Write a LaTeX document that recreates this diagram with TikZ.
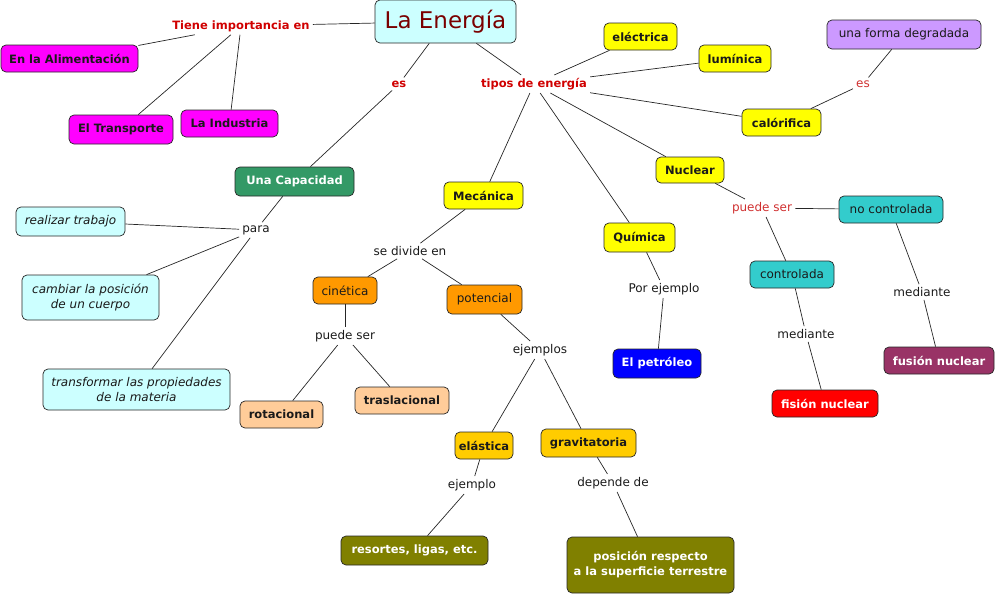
\documentclass[tikz,border=0pt]{standalone}
\usepackage{fontspec}
\setmainfont{DejaVu Sans}
\definecolor{cyanbox}{HTML}{CCFFFF}
\definecolor{titlered}{HTML}{7A0000}
\definecolor{linkred}{HTML}{D00000}
\definecolor{linkredb}{HTML}{D03030}
\definecolor{magentabox}{HTML}{FF00FF}
\definecolor{greenbox}{HTML}{339966}
\definecolor{yellowbox}{HTML}{FFFF00}
\definecolor{lilac}{HTML}{CC99FF}
\definecolor{tealbox}{HTML}{33CCCC}
\definecolor{redbox}{HTML}{FF0000}
\definecolor{plum}{HTML}{993366}
\definecolor{bluebox}{HTML}{0000FF}
\definecolor{orangebox}{HTML}{FF9900}
\definecolor{peach}{HTML}{FFCC99}
\definecolor{goldbox}{HTML}{FFCC00}
\definecolor{olivebox}{HTML}{808000}
\definecolor{darktext}{HTML}{1A1A1A}
\tikzset{
  box/.style={draw=black!85, rounded corners=5pt, line width=0.7pt, inner sep=2pt, align=center,
    font=\bfseries\fontsize{11.5}{15}\selectfont, text=darktext},
  nbox/.style={box, font=\fontsize{12}{15}\selectfont},
  ibox/.style={box, font=\itshape\fontsize{12}{15}\selectfont},
  lbl/.style={inner sep=3pt, font=\fontsize{12}{14}\selectfont, text=darktext},
  rlbl/.style={inner sep=3pt, font=\bfseries\fontsize{11.5}{14}\selectfont, text=linkred},
  rlbln/.style={inner sep=3pt, font=\fontsize{12}{14}\selectfont, text=linkredb},
  conn/.style={draw=black!85, line width=0.7pt}
}
\begin{document}
\begin{tikzpicture}[x=1pt,y=-1pt]
\useasboundingbox (0,0) rectangle (997,595);
% main
\node[nbox, fill=cyanbox, minimum width=141, minimum height=43, font=\fontsize{23}{26}\selectfont, text=titlered] (E) at (445.5,21.5) {La Energía};
% importance
\node[rlbl] (tiene) at (241,26) {Tiene importancia en};
\node[box, fill=magentabox, minimum width=137, minimum height=27] (alim) at (69.5,58.5) {En la Alimentación};
\node[box, fill=magentabox, minimum width=104, minimum height=29] (trans) at (121,129.5) {El Transporte};
\node[box, fill=magentabox, minimum width=97, minimum height=27] (indus) at (229.5,123.5) {La Industria};
% es capacidad
\node[rlbl] (es1) at (399,84) {es};
\node[box, fill=greenbox, text=white, minimum width=119, minimum height=29] (cap) at (294.5,181.5) {Una Capacidad};
\node[lbl] (para) at (256,230) {para};
\node[ibox, fill=cyanbox, minimum width=109, minimum height=29] (real) at (70.5,221.5) {realizar trabajo};
\node[ibox, fill=cyanbox, minimum width=137, minimum height=45] (camb) at (90.5,297.5) {cambiar la posición\\de un cuerpo};
\node[ibox, fill=cyanbox, minimum width=187, minimum height=41] (transf) at (136.5,389.5) {transformar las propiedades\\de la materia};
% tipos
\node[rlbl] (tipos) at (534,84) {tipos de energía};
\node[box, fill=yellowbox, minimum width=73, minimum height=27] (elec) at (640.5,36.5) {eléctrica};
\node[box, fill=yellowbox, minimum width=72, minimum height=27] (lum) at (735,58.5) {lumínica};
\node[box, fill=yellowbox, minimum width=79, minimum height=27] (cal) at (781.5,122.5) {calórifica};
\node[rlbln] (es2) at (863,84) {es};
\node[nbox, fill=lilac, minimum width=154, minimum height=29] (degr) at (904,34.5) {una forma degradada};
\node[box, fill=yellowbox, minimum width=68, minimum height=26] (nuc) at (690,170) {Nuclear};
\node[box, fill=yellowbox, minimum width=79, minimum height=27] (mec) at (483.5,195.5) {Mecánica};
\node[box, fill=yellowbox, minimum width=71, minimum height=29] (quim) at (639.5,237.5) {Química};
% nuclear
\node[rlbln] (pser1) at (762,208) {puede ser};
\node[nbox, fill=tealbox, minimum width=104, minimum height=27] (noc) at (891,209.5) {no controlada};
\node[nbox, fill=tealbox, minimum width=84, minimum height=27] (con) at (792,274.5) {controlada};
\node[lbl] (med1) at (806,334) {mediante};
\node[box, fill=redbox, text=white, minimum width=106, minimum height=27] (fis) at (825,403.5) {fisión nuclear};
\node[lbl] (med2) at (922,292) {mediante};
\node[box, fill=plum, text=white, minimum width=110, minimum height=27] (fus) at (939,360.5) {fusión nuclear};
% quimica
\node[lbl] (porej) at (664,289) {Por ejemplo};
\node[box, fill=bluebox, text=white, minimum width=88, minimum height=29] (petr) at (657,363.5) {El petróleo};
% mecanica
\node[lbl] (divide) at (410,251) {se divide en};
\node[nbox, fill=orangebox, minimum width=64, minimum height=27] (cin) at (345,290.5) {cinética};
\node[nbox, fill=orangebox, minimum width=75, minimum height=29] (pot) at (484.5,299.5) {potencial};
\node[lbl] (pser2) at (345,336) {puede ser};
\node[box, fill=peach, minimum width=83, minimum height=27] (rot) at (281.5,414.5) {rotacional};
\node[box, fill=peach, minimum width=94, minimum height=27] (tras) at (402,400.5) {traslacional};
\node[lbl] (ejs) at (540,350) {ejemplos};
\node[box, fill=goldbox, minimum width=58, minimum height=27] (elas) at (484,445.5) {elástica};
\node[box, fill=goldbox, minimum width=95, minimum height=28] (grav) at (588.5,443) {gravitatoria};
\node[lbl] (ej) at (472,485) {ejemplo};
\node[box, fill=olivebox, text=white, minimum width=147, minimum height=29] (res) at (414.5,550.5) {resortes, ligas, etc.};
\node[lbl] (dep) at (613,483) {depende de};
\node[box, fill=olivebox, text=white, minimum width=167, minimum height=56, font=\bfseries\fontsize{11.5}{15}\selectfont] (pos) at (650.5,565) {posición respecto\\a la superficie terrestre};
% connectors
\draw[conn] (E) -- (tiene);
\draw[conn] (tiene) -- (alim);
\draw[conn] (tiene) -- (trans);
\draw[conn] (tiene) -- (indus);
\draw[conn] (E) -- (es1);
\draw[conn] (es1) -- (cap);
\draw[conn] (cap) -- (para);
\draw[conn] (para) -- (real);
\draw[conn] (para) -- (camb);
\draw[conn] (para) -- (transf);
\draw[conn] (E) -- (tipos);
\draw[conn] (tipos) -- (elec);
\draw[conn] (tipos) -- (lum);
\draw[conn] (tipos) -- (cal);
\draw[conn] (cal) -- (es2);
\draw[conn] (es2) -- (degr);
\draw[conn] (tipos) -- (nuc);
\draw[conn] (tipos) -- (quim);
\draw[conn] (tipos) -- (mec);
\draw[conn] (nuc) -- (pser1);
\draw[conn] (pser1) -- (noc);
\draw[conn] (pser1) -- (con);
\draw[conn] (con) -- (med1);
\draw[conn] (med1) -- (fis);
\draw[conn] (noc) -- (med2);
\draw[conn] (med2) -- (fus);
\draw[conn] (quim) -- (porej);
\draw[conn] (porej) -- (petr);
\draw[conn] (mec) -- (divide);
\draw[conn] (divide) -- (cin);
\draw[conn] (divide) -- (pot);
\draw[conn] (cin) -- (pser2);
\draw[conn] (pser2) -- (rot);
\draw[conn] (pser2) -- (tras);
\draw[conn] (pot) -- (ejs);
\draw[conn] (ejs) -- (elas);
\draw[conn] (ejs) -- (grav);
\draw[conn] (elas) -- (ej);
\draw[conn] (ej) -- (res);
\draw[conn] (grav) -- (dep);
\draw[conn] (dep) -- (pos);
\end{tikzpicture}
\end{document}
